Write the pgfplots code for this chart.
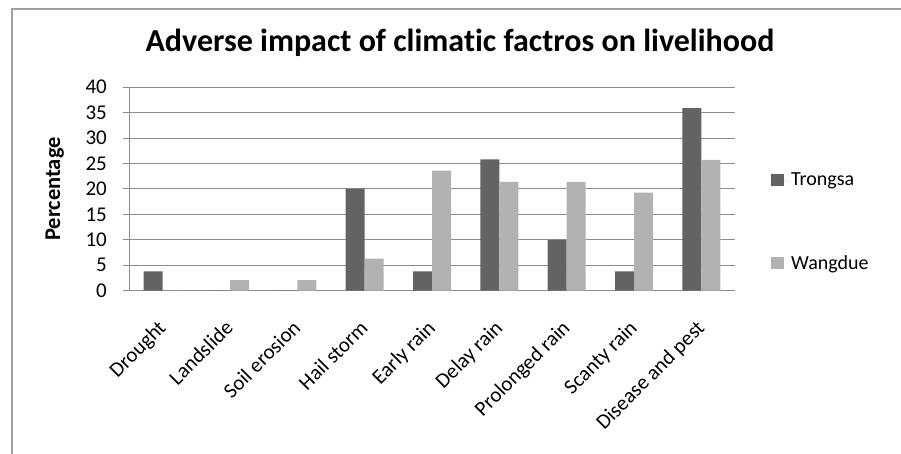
\documentclass[border=0pt]{standalone}
\usepackage{fontspec}
\setmainfont{Carlito}[Ligatures={NoCommon}]
\usepackage{pgfplots}
\pgfplotsset{compat=1.18}

\definecolor{trongsa}{RGB}{99,99,99}
\definecolor{wangdue}{RGB}{178,178,178}
\definecolor{gridgray}{RGB}{140,140,140}
\definecolor{framegray}{RGB}{160,160,160}

\begin{document}
\begin{tikzpicture}[x=1pt,y=1pt]
\useasboundingbox (0,0) rectangle (901,453);
% chart frame (cut off at the right and bottom)
\draw[framegray, line width=1.2pt] (12,-10) -- (12,444) -- (920,444);
\node[anchor=base, font=\fontsize{32}{36}\selectfont\bfseries]
  at (460,401) {Adverse impact of climatic factros on livelihood};
\begin{axis}[
    at={(129pt,162.3pt)}, anchor=south west,
    scale only axis, width=606pt, height=203.5pt,
    ybar=0pt, bar width=19pt,
    xmin=-0.5, xmax=8.5, ymin=0, ymax=40,
    ytick={0,5,...,40},
    xtick={0,...,8},
    xticklabels={Drought, Landslide, Soil erosion, Hail storm, Early rain,
      Delay rain, Prolonged rain, Scanty rain, Disease and pest},
    /pgf/number format/assume math mode=true,
    axis lines=left, axis line style={-, gridgray, line width=1pt},
    ymajorgrids, grid style={gridgray, line width=1pt},
    xtick style={draw=none},
    ytick style={gridgray, line width=1pt},
    tick align=outside, major tick length=6pt,
    yticklabel style={font=\fontsize{21}{24}\selectfont, inner sep=0pt, xshift=-16pt},
    xticklabel style={font=\fontsize{21}{23}\selectfont, inner sep=0pt,
      xshift=-6pt, yshift=-22pt, rotate=45, anchor=north east},
    ylabel={Percentage},
    ylabel style={font=\fontsize{22.5}{25}\selectfont\bfseries,
      at={(axis description cs:-0.1226,0.5)}, anchor=center},
    legend style={draw=none, fill=none, inner sep=0pt,
      at={(axis description cs:1.0594,0.59)}, anchor=north west,
      font=\fontsize{20}{22}\selectfont, row sep=64pt},
    legend cell align=left,
    legend image code/.code={\fill[#1] (0pt,-6pt) rectangle (13pt,6pt);
      \path (0pt,0pt) -- (18pt,0pt);},
]
\addplot[draw=none, fill=trongsa] coordinates {
    (0,3.8) (1,0) (2,0) (3,20) (4,3.8) (5,25.8) (6,10) (7,3.8) (8,35.9)
};
\addplot[draw=none, fill=wangdue] coordinates {
    (0,0) (1,2.1) (2,2.1) (3,6.3) (4,23.6) (5,21.4) (6,21.4) (7,19.3) (8,25.7)
};
\legend{Trongsa, Wangdue}
\end{axis}
\end{tikzpicture}
\end{document}
